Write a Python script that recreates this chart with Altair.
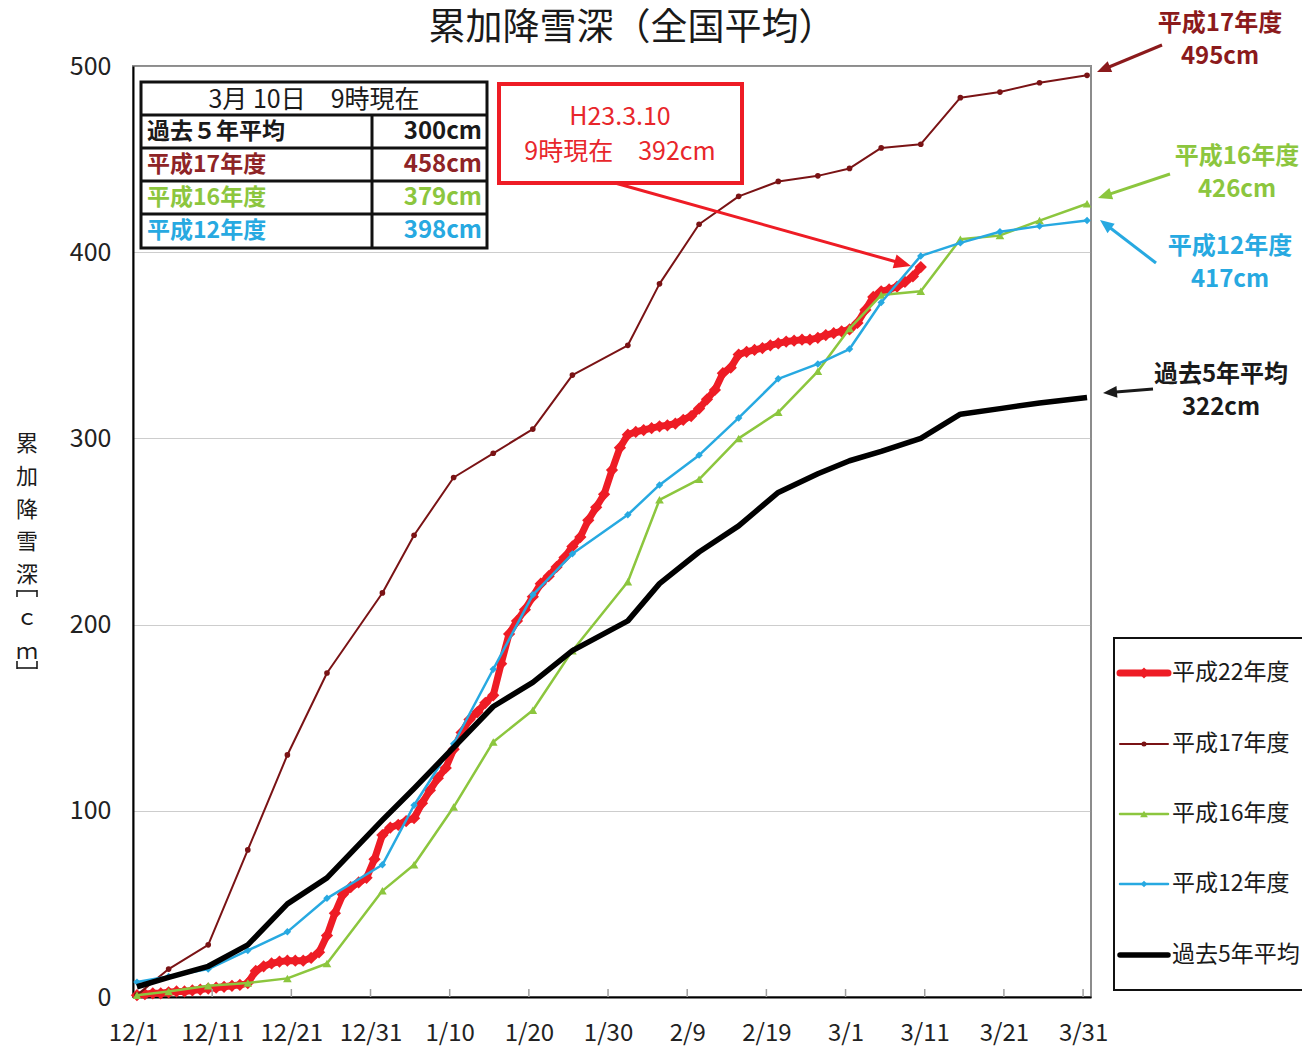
import math
import altair as alt
import pandas as pd

FONT = "Noto Sans CJK JP"

# ---------------- data ----------------
pentad_dates = ["12/1", "12/5", "12/10", "12/15", "12/20", "12/25", "1/1", "1/5", "1/10", "1/15",
                "1/20", "1/25", "2/1", "2/5", "2/10", "2/15", "2/20", "2/25", "3/1", "3/5",
                "3/10", "3/15", "3/20", "3/25", "3/31"]
h17 = [1, 15, 28, 79, 130, 174, 217, 248, 279, 292, 305, 334, 350, 383, 415, 430, 438, 441,
       445, 456, 458, 483, 486, 491, 495]
h16 = [1, 3, 6, 7.5, 10, 18, 57, 71, 102, 137, 154, 186, 223, 267, 278, 300, 314, 336,
       359, 377, 379, 407, 409, 417, 426]
h12 = [8, 11, 15, 25, 35, 53, 71, 103, 136, 176, 216, 238, 259, 275, 291, 311, 332, 340,
       348, 373, 398, 405, 411, 414, 417]
avg5 = [5.5, 10.5, 16.5, 28, 50, 64, 95, 112, 134, 156, 169, 186, 202, 222, 239, 253, 271, 281,
        288, 293, 300, 313, 316, 319, 322]

# 平成22年度 daily values from 12/1 to 3/10
h22_start = "12/1"
h22 = [
    # Dec
    1, 1.5, 2, 2, 2.5, 3, 3, 3.5, 4, 4.5, 5, 5.5, 6, 6.5, 7.5,
    14, 16.5, 18, 19, 19.5, 19.5, 19.5, 21, 24, 33, 45, 55, 59, 61.5, 64, 74,
    # Jan
    87, 91, 92.5, 94.5, 96, 104, 111, 117.5, 123, 133, 142, 149, 153, 158, 162,
    179, 195, 202, 208, 215, 222, 226, 231, 236, 242, 247, 256, 263, 270, 283, 295,
    # Feb
    302, 303.5, 304.5, 305.5, 306.5, 307, 308, 310, 312, 316, 321, 326, 335, 338,
    345, 346.5, 347.5, 348.5, 350, 351, 352, 352.5, 353, 353, 354, 355.5, 356.5, 357.5,
    # Mar
    358.5, 362, 369, 376, 379, 380, 381.5, 384, 387, 392,
]

tick_labels = ["12/1", "12/11", "12/21", "12/31", "1/10", "1/20", "1/30", "2/9", "2/19",
               "3/1", "3/11", "3/21", "3/31"]
y_ticks = [0, 100, 200, 300, 400, 500]

series_names = ["平成22年度", "平成17年度", "平成16年度", "平成12年度", "過去5年平均"]
snapshot_date = "3/10"


def day_index(md):
    m, d = map(int, md.split("/"))
    y = 2010 if m == 12 else 2011
    return (pd.Timestamp(y, m, d) - pd.Timestamp(2010, 12, 1)).days


# ---------------- styles ----------------
styles = {
    "平成22年度": dict(color="#EE1C25", sw=7, shape="diamond", size=150),
    "平成17年度": dict(color="#7A1315", sw=2, shape="circle", size=32),
    "平成16年度": dict(color="#8CC63E", sw=2.5, shape="triangle-up", size=75),
    "平成12年度": dict(color="#27A9E1", sw=2.5, shape="diamond", size=55),
    "過去5年平均": dict(color="#000000", sw=5.5, shape=None, size=0),
}
text_colors = {
    "平成22年度": "#E8262B",
    "平成17年度": "#8E2426",
    "平成16年度": "#8CC63E",
    "平成12年度": "#27A9E1",
    "過去5年平均": "#1a1a1a",
}

W, H = 958, 931          # plot area
X0, Y0 = 133, 66         # page position of the plot origin (for annotation layout)

series_x = {
    "平成22年度": [day_index(h22_start) + i for i in range(len(h22))],
    "平成17年度": [day_index(d) for d in pentad_dates],
    "平成16年度": [day_index(d) for d in pentad_dates],
    "平成12年度": [day_index(d) for d in pentad_dates],
    "過去5年平均": [day_index(d) for d in pentad_dates],
}
series_v = {"平成22年度": h22, "平成17年度": h17, "平成16年度": h16, "平成12年度": h12, "過去5年平均": avg5}

tick_pos = [day_index(t) for t in tick_labels]
label_expr = ("[" + ",".join(f"'{t}'" for t in tick_labels) + "][indexof(["
              + ",".join(str(p) for p in tick_pos) + "], datum.value)]")

xscale = alt.Scale(domain=[0, 121], nice=False, zero=False)
yscale = alt.Scale(domain=[0, 500], nice=False)
xaxis = alt.Axis(values=tick_pos, labelExpr=label_expr, title=None, grid=False, ticks=False, tickSize=0,
                 domainColor="#000000", domainWidth=2, labelFontSize=24, labelColor="#222222",
                 labelFont=FONT, labelPadding=24, labelOverlap=False, labelFlush=False)
yaxis = alt.Axis(values=y_ticks, title=None, grid=True, gridColor="#9a9a9a", gridWidth=1, gridDash=[1, 1],
                 ticks=False, tickSize=0, domainColor="#000000", domainWidth=2, labelFontSize=25,
                 labelColor="#222222", labelFont=FONT, labelPadding=22, labelOverlap=False, labelFlush=False)
XE = alt.X("x:Q", scale=xscale, axis=xaxis)
YE = alt.Y("v:Q", scale=yscale, axis=yaxis)

PX = alt.X("px:Q", scale=None, axis=None)
PY = alt.Y("py:Q", scale=None, axis=None)

layers = []

# data series (drawn in Excel order: first series at bottom)
for name in series_names:
    st = styles[name]
    df = pd.DataFrame({"x": [i + 0.5 for i in series_x[name]], "v": series_v[name]})
    layers.append(alt.Chart(df).mark_line(color=st["color"], strokeWidth=st["sw"], strokeJoin="round")
                  .encode(x=XE, y=YE))
    if st["shape"]:
        layers.append(alt.Chart(df).mark_point(shape=st["shape"], size=st["size"], filled=True,
                                               color=st["color"], opacity=1).encode(x=XE, y=YE))

# inner tick marks on the x axis
tick_df = pd.DataFrame({"x": tick_pos[1:]})
layers.append(alt.Chart(tick_df).mark_rule(color="#a0a0a0", strokeWidth=1.5)
              .encode(x=XE, y=alt.value(H), y2=alt.value(H - 8)))


def text_layer(rows, size, weight="normal", align="center"):
    df = pd.DataFrame(rows, columns=["t", "px", "py", "c"])
    df["px"] = df["px"] - X0
    df["py"] = df["py"] - Y0
    return alt.Chart(df).mark_text(font=FONT, fontSize=size, fontWeight=weight, align=align,
                                   baseline="middle").encode(
        x=PX, y=PY, text="t:N", color=alt.Color("c:N", scale=None))


def rule_layer(rows, width):
    df = pd.DataFrame(rows, columns=["px", "py", "px2", "py2", "c"])
    for k in ("px", "px2"):
        df[k] = df[k] - X0
    for k in ("py", "py2"):
        df[k] = df[k] - Y0
    return alt.Chart(df).mark_rule(strokeWidth=width).encode(
        x=PX, y=PY, x2=alt.X2("px2"), y2=alt.Y2("py2"), color=alt.Color("c:N", scale=None))


def rect_layer(x1, y1, x2, y2, stroke, width, fill="white"):
    df = pd.DataFrame({"px": [x1 - X0], "py": [y1 - Y0], "px2": [x2 - X0], "py2": [y2 - Y0]})
    return alt.Chart(df).mark_rect(fill=fill, stroke=stroke, strokeWidth=width).encode(
        x=PX, y=PY, x2=alt.X2("px2"), y2=alt.Y2("py2"))


HEAD = "M0,0L-1,-0.42L-1,0.42Z"


def arrow_layers(arrows, width, head_len):
    shafts, heads = [], []
    for x1, y1, x2, y2, c in arrows:
        a = math.atan2(y2 - y1, x2 - x1)
        ex, ey = x2 - math.cos(a) * head_len * 0.7, y2 - math.sin(a) * head_len * 0.7
        shafts.append((x1, y1, ex, ey, c))
        heads.append(dict(px=x2 - X0, py=y2 - Y0, ang=math.degrees(a) % 360, c=c))
    out = [rule_layer(shafts, width)]
    out.append(alt.Chart(pd.DataFrame(heads)).mark_point(shape=HEAD, size=4 * head_len ** 2, filled=True,
                                                         opacity=1, strokeWidth=0).encode(
        x=PX, y=PY, angle=alt.Angle("ang:Q", scale=None), color=alt.Color("c:N", scale=None)))
    return out


# ---------- title ----------
layers.append(text_layer([("累加降雪深（全国平均）", 632, 29, "#1a1a1a")], 37))

# ---------- vertical y-axis title ----------
ytitle_chars = ["累", "加", "降", "雪", "深", "ｃ", "ｍ"]
ytitle_y = [444, 477, 510, 542, 575, 618, 652]
layers.append(text_layer([(ch, 27, yy, "#1a1a1a") for ch, yy in zip(ytitle_chars, ytitle_y)], 22))
# vertical-writing square brackets around the unit
bx1, bx2 = 17, 37
layers.append(rule_layer([
    (bx1, 591, bx2, 591, "#1a1a1a"), (bx1, 590, bx1, 597, "#1a1a1a"), (bx2, 590, bx2, 597, "#1a1a1a"),
    (bx1, 668, bx2, 668, "#1a1a1a"), (bx1, 661, bx1, 669, "#1a1a1a"), (bx2, 661, bx2, 669, "#1a1a1a"),
], 1.6))

# ---------- table (values at snapshot date) ----------
snap_i = pentad_dates.index(snapshot_date)
table_rows = [("過去５年平均", avg5[snap_i], "過去5年平均"),
              ("平成17年度", h17[snap_i], "平成17年度"),
              ("平成16年度", h16[snap_i], "平成16年度"),
              ("平成12年度", h12[snap_i], "平成12年度")]
tx1, tx2, tcol = 141, 487, 372
ty = [82, 115, 148, 181, 214, 248]
layers.append(rect_layer(tx1, ty[0], tx2, ty[-1], "#111111", 3))
layers.append(rule_layer([(tx1, yy, tx2, yy, "#111111") for yy in ty[1:-1]] +
                         [(tcol, ty[1], tcol, ty[-1], "#111111")], 3))
m, d = snapshot_date.split("/")
layers.append(text_layer([(f"{m}月 {d}日　9時現在", 314, 100, "#1a1a1a")], 25))
left_rows, right_rows = [], []
for k, (lab, val, key) in enumerate(table_rows):
    yy = (ty[k + 1] + ty[k + 2]) / 2
    left_rows.append((lab, 147, yy, text_colors[key]))
    right_rows.append((f"{val:g}cm", 482, yy, text_colors[key]))
layers.append(text_layer(left_rows, 23, "bold", "left"))
layers.append(text_layer(right_rows, 24, "bold", "right"))

# ---------- red callout ----------
layers.append(rect_layer(499, 84, 742, 183, "#EE1C25", 4))
layers.append(text_layer([("H23.3.10", 620, 117, text_colors["平成22年度"]),
                          (f"9時現在　{h22[-1]:g}cm", 620, 152, text_colors["平成22年度"])], 25))
layers += arrow_layers([(615, 183, 911, 266, "#EE1C25")], 3, 17)

# ---------- right-side end annotations ----------
end_ann = [
    ("平成17年度", h17[-1], 1220, 24, "#8B1A1C", (1162, 45, 1097, 72)),
    ("平成16年度", h16[-1], 1237, 157, "#8CC63E", (1170, 174, 1098, 198)),
    ("平成12年度", h12[-1], 1230, 247, "#27A9E1", (1156, 263, 1100, 220)),
    ("過去5年平均", avg5[-1], 1221, 375, "#1a1a1a", (1153, 389, 1103, 393)),
]
ann_rows = []
ann_arrows = []
for name, val, cx, cy, col, arr in end_ann:
    ann_rows.append((name, cx, cy, col))
    ann_rows.append((f"{val:g}cm", cx, cy + 33, col))
    ann_arrows.append((*arr, col))
layers.append(text_layer(ann_rows, 24, "bold"))
layers += arrow_layers(ann_arrows, 3, 14)

# ---------- legend ----------
leg_y = [673, 744, 814, 884, 955]
layers.append(rect_layer(1114, 638, 1330, 990, "#111111", 2))
leg_lines, leg_pts = [], []
for name, yy in zip(series_names, leg_y):
    st = styles[name]
    leg_lines.append(dict(px=1120 - X0, px2=1168 - X0, py=yy - Y0, c=st["color"], sw=st["sw"]))
    if st["shape"]:
        leg_pts.append(dict(px=1144 - X0, py=yy - Y0, c=st["color"], shp=st["shape"], sz=st["size"] * 0.8))
layers.append(alt.Chart(pd.DataFrame(leg_lines)).mark_rule(strokeCap="round").encode(
    x=PX, x2=alt.X2("px2"), y=PY, color=alt.Color("c:N", scale=None),
    strokeWidth=alt.StrokeWidth("sw:Q", scale=None)))
layers.append(alt.Chart(pd.DataFrame(leg_pts)).mark_point(filled=True, opacity=1).encode(
    x=PX, y=PY, color=alt.Color("c:N", scale=None), shape=alt.Shape("shp:N", scale=None),
    size=alt.Size("sz:Q", scale=None)))
layers.append(text_layer([(name, 1172, yy, "#1a1a1a") for name, yy in zip(series_names, leg_y)],
                         23, "normal", "left"))

chart = alt.layer(*layers).properties(
    width=W, height=H,
    padding={"left": 125, "top": 58, "right": 211, "bottom": 51},
    autosize=alt.AutoSizeParams(type="none"),
).configure_view(stroke="#8c8c8c", strokeWidth=2)

chart.save("out.html", embed_options={"renderer": "svg", "actions": False})
